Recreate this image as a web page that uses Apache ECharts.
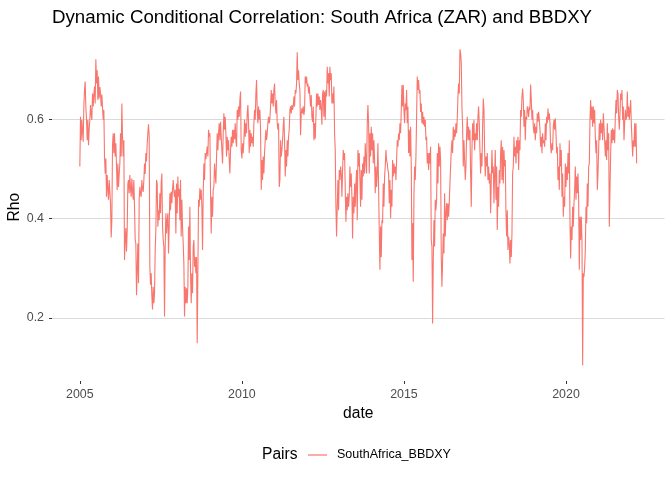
<!DOCTYPE html>
<html><head><meta charset="utf-8">
<script src="https://cdn.jsdelivr.net/npm/echarts@6/dist/echarts.min.js"></script>
<style>html,body{margin:0;padding:0;background:#fff}#chart{width:672px;height:480px}</style>
</head><body><div id="chart"></div>
<script>
const titleText = 'Dynamic Conditional Correlation: South Africa (ZAR) and BBDXY';
const seriesName = 'SouthAfrica_BBDXY';
const legendTitle = 'Pairs';
const xName = 'date';
const yName = 'Rho';
// observations are evenly spaced in time between these two dates (decimal years)
const firstObs = 2005.0;
const lastObs = 2022.18;
const rho = [
.505,.605,.558,.599,.575,.555,.626,.659,.676,.626,
.600,.558,.599,.548,.580,.599,.629,.610,.599,.652,
.626,.650,.666,.632,.721,.672,.699,.639,.686,.642,
.665,.652,.626,.650,.646,.599,.619,.525,.491,.521,
.444,.488,.460,.438,.478,.455,.431,.362,.397,.548,
.572,.532,.572,.525,.552,.505,.458,.511,.464,.490,
.511,.572,.525,.632,.565,.525,.558,.317,.357,.381,
.334,.377,.470,.478,.451,.488,.460,.444,.481,.455,
.438,.478,.424,.357,.350,.246,.297,.350,.270,.438,
.464,.450,.444,.478,.460,.454,.478,.511,.490,.532,
.515,.552,.572,.590,.565,.303,.267,.290,.243,.217,
.263,.230,.250,.337,.377,.478,.471,.384,.417,.397,
.451,.411,.471,.491,.384,.357,.344,.203,.344,.411,
.370,.397,.411,.330,.384,.451,.417,.454,.431,.460,
.478,.455,.444,.458,.370,.471,.411,.485,.444,.460,
.397,.478,.364,.438,.384,.350,.310,.203,.263,.230,
.260,.230,.263,.384,.317,.424,.290,.230,.290,.250,
.344,.357,.303,.323,.290,.323,.149,.290,.438,.424,
.461,.438,.458,.424,.337,.451,.511,.478,.532,.520,
.518,.545,.525,.579,.565,.572,.451,.370,.444,.404,
.458,.464,.511,.490,.471,.525,.572,.538,.572,.592,
.558,.595,.565,.538,.511,.572,.612,.579,.605,.572,
.525,.565,.538,.558,.518,.491,.538,.565,.545,.579,
.552,.579,.560,.592,.558,.545,.619,.599,.626,.605,
.639,.656,.538,.521,.552,.532,.558,.599,.565,.592,
.572,.612,.629,.592,.532,.579,.545,.572,.552,.565,
.545,.592,.619,.599,.652,.679,.619,.592,.626,.599,
.619,.579,.458,.518,.478,.525,.491,.532,.558,.579,
.558,.572,.592,.605,.592,.602,.626,.659,.632,.652,
.626,.659,.672,.632,.612,.639,.592,.579,.592,.464,
.478,.558,.525,.538,.558,.585,.605,.558,.485,.538,
.505,.558,.525,.565,.579,.619,.626,.612,.629,.619,
.626,.646,.626,.659,.652,.672,.735,.679,.699,.672,
.659,.568,.612,.622,.612,.626,.609,.619,.686,.672,
.686,.666,.672,.652,.666,.646,.626,.649,.605,.595,
.626,.558,.592,.561,.605,.652,.626,.652,.629,.646,
.619,.639,.622,.589,.652,.659,.605,.656,.599,.659,
.646,.706,.672,.693,.646,.706,.679,.693,.632,.652,
.632,.666,.572,.538,.424,.364,.424,.478,.417,.498,
.478,.505,.491,.444,.498,.538,.518,.532,.458,.394,
.444,.417,.451,.424,.444,.505,.464,.491,.444,.360,
.444,.411,.471,.424,.471,.498,.397,.538,.505,.532,
.480,.424,.498,.438,.511,.485,.525,.491,.552,.518,
.491,.592,.629,.592,.491,.572,.525,.585,.538,.572,
.511,.558,.518,.451,.505,.464,.491,.552,.464,.377,
.297,.384,.323,.397,.391,.471,.424,.485,.505,.538,
.518,.511,.498,.491,.431,.478,.401,.458,.424,.518,
.485,.511,.491,.505,.478,.518,.558,.545,.572,.558,
.592,.572,.619,.669,.626,.669,.619,.592,.632,.619,
.659,.592,.626,.532,.579,.525,.585,.505,.317,.391,
.273,.444,.505,.478,.525,.605,.686,.659,.679,.652,
.659,.615,.632,.592,.615,.589,.605,.585,.599,.558,
.565,.511,.532,.498,.532,.511,.545,.357,.344,.189,
.317,.397,.344,.438,.417,.438,.532,.471,.552,.505,
.545,.518,.323,.263,.317,.370,.330,.451,.364,.411,
.431,.397,.431,.404,.431,.471,.505,.538,.558,.532,
.585,.558,.579,.565,.592,.572,.602,.646,.672,.652,
.741,.733,.713,.626,.585,.505,.558,.518,.478,.505,
.572,.605,.558,.585,.558,.579,.491,.424,.538,.592,
.558,.599,.538,.572,.558,.592,.558,.605,.626,.592,
.538,.491,.532,.505,.585,.642,.619,.538,.485,.525,
.505,.532,.478,.505,.471,.491,.411,.478,.538,.491,
.505,.431,.491,.538,.438,.505,.377,.464,.424,.498,
.471,.532,.558,.478,.545,.471,.538,.505,.518,.411,
.364,.417,.337,.364,.350,.310,.357,.323,.370,.491,
.505,.565,.525,.545,.511,.558,.532,.565,.498,.558,
.538,.619,.605,.646,.662,.639,.585,.619,.558,.605,
.599,.626,.619,.605,.626,.619,.670,.639,.599,.619,
.585,.572,.592,.558,.585,.572,.612,.595,.615,.599,
.579,.545,.565,.532,.572,.552,.558,.545,.592,.558,
.605,.592,.622,.599,.612,.592,.545,.532,.552,.538,
.585,.599,.579,.602,.572,.532,.545,.478,.505,.458,
.552,.505,.538,.444,.491,.404,.444,.424,.511,.464,
.505,.478,.532,.491,.558,.397,.320,.384,.357,.424,
.384,.431,.458,.505,.438,.485,.451,.491,.438,.297,
.404,.357,.404,.357,.105,.290,.283,.303,.337,.424,
.391,.471,.424,.505,.511,.599,.639,.599,.626,.585,
.626,.592,.619,.565,.532,.558,.458,.491,.538,.592,
.558,.599,.572,.592,.558,.612,.585,.558,.525,.558,
.518,.592,.538,.572,.384,.381,.532,.579,.552,.582,
.558,.579,.552,.605,.639,.612,.659,.652,.605,.579,
.612,.652,.639,.659,.599,.626,.558,.592,.619,.599,
.605,.656,.605,.626,.599,.619,.639,.592,.558,.525,
.558,.545,.592,.545,.592,.511
];
const xTicks = [2005, 2010, 2015, 2020];
const yTicks = [0.2, 0.4, 0.6];

const step = (lastObs - firstObs) / (rho.length - 1);
const points = rho.map((v, i) => [firstObs + i * step, v]);

// ggplot-like 5% expansion of the data range
const xPad = (lastObs - firstObs) * 0.05;
const yLo = Math.min(...rho), yHi = Math.max(...rho);
const yPad = (yHi - yLo) * 0.05;

const FONT = "'Liberation Sans', Arial, Helvetica, sans-serif";
const lineColor = '#F8766D';
const gridColor = '#DADADA';

const chart = echarts.init(document.getElementById('chart'), null, {renderer: 'canvas'});
chart.setOption({
  animation: false,
  backgroundColor: '#ffffff',
  title: {
    text: titleText, left: 52, top: 8, padding: 0,
    textStyle: {fontFamily: FONT, fontSize: 18.7, fontWeight: 'normal', color: '#000'}
  },
  grid: {left: 52, right: 7.5, top: 33.5, bottom: 99, containLabel: false, outerBoundsMode: 'none'},
  xAxis: {
    type: 'value',
    min: firstObs - xPad, max: lastObs + xPad,
    name: xName, nameLocation: 'middle', nameGap: 25, nameMoveOverlap: false,
    nameTextStyle: {fontFamily: FONT, fontSize: 15.6, color: '#000'},
    axisLine: {show: false},
    axisTick: {show: true, length: 3, customValues: xTicks, lineStyle: {color: '#333333', width: 1}},
    axisLabel: {customValues: xTicks, margin: 8, fontFamily: FONT, fontSize: 12.4, color: '#4D4D4D',
      formatter: v => String(Math.round(v))},
    splitLine: {show: false}
  },
  yAxis: {
    type: 'value',
    min: yLo - yPad, max: yHi + yPad,
    name: yName, nameLocation: 'middle', nameGap: 29, nameRotate: 90, nameMoveOverlap: false,
    nameTextStyle: {fontFamily: FONT, fontSize: 15.6, color: '#000'},
    axisLine: {show: false},
    axisTick: {show: true, length: 3, customValues: yTicks, lineStyle: {color: '#333333', width: 1}},
    axisLabel: {customValues: yTicks, margin: 8, fontFamily: FONT, fontSize: 12.4, color: '#4D4D4D',
      formatter: v => v.toFixed(1)},
    splitLine: {show: true, lineStyle: {color: gridColor, width: 1}}
  },
  legend: {
    left: 308, top: 448, padding: 0, icon: 'rect', itemWidth: 19, itemHeight: 1.2, itemGap: 0,
    textStyle: {fontFamily: FONT, fontSize: 12.5, color: '#000', padding: [0, 0, 0, 5], lineHeight: 14},
    data: [{name: seriesName}]
  },
  graphic: [{
    type: 'text', left: 262, top: 447,
    style: {text: legendTitle, font: "15.6px 'Liberation Sans', Arial, sans-serif", fill: '#000'}
  }],
  series: [{
    name: seriesName, type: 'line', data: points,
    showSymbol: false, symbol: 'none',
    lineStyle: {color: lineColor, width: 1.1},
    itemStyle: {color: lineColor}
  }]
});
</script>
</body></html>
